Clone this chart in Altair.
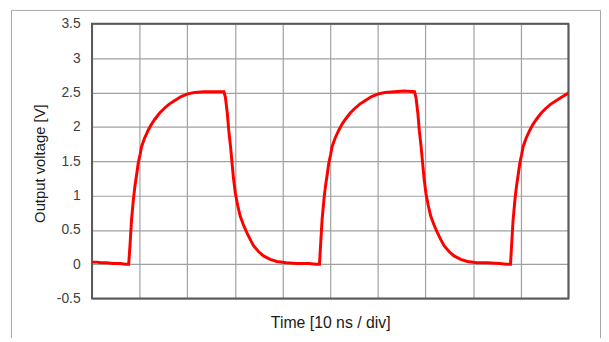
import altair as alt
import pandas as pd

# time in divisions (10 ns / div), output voltage in V
time_div = [
    0.00, 0.10, 0.20, 0.30, 0.45, 0.60, 0.70, 0.77,
    0.80, 0.83, 0.87, 0.90, 0.94, 0.97, 1.01, 1.04, 1.10, 1.18, 1.25, 1.32,
    1.42, 1.52, 1.62, 1.73, 1.87, 2.01, 2.15, 2.35, 2.55, 2.77,
    2.80, 2.84, 2.87, 2.91, 2.94, 2.97, 3.01, 3.06, 3.11, 3.18, 3.25, 3.32,
    3.39, 3.50, 3.60, 3.74, 3.88, 4.08, 4.30, 4.55, 4.70, 4.775,
    4.80, 4.83, 4.87, 4.90, 4.94, 4.97, 5.01, 5.04, 5.10, 5.18, 5.25, 5.32,
    5.42, 5.52, 5.62, 5.73, 5.87, 6.01, 6.15, 6.35, 6.55, 6.77,
    6.80, 6.84, 6.87, 6.91, 6.94, 6.97, 7.01, 7.06, 7.11, 7.18, 7.25, 7.32,
    7.39, 7.50, 7.60, 7.74, 7.88, 8.08, 8.30, 8.55, 8.70, 8.785,
    8.81, 8.84, 8.88, 8.91, 8.95, 8.98, 9.02, 9.05, 9.11, 9.19, 9.26, 9.33,
    9.43, 9.53, 9.63, 9.74, 9.88, 10.00,
]
voltage = [
    0.03, 0.03, 0.02, 0.02, 0.01, 0.01, 0.00, 0.00,
    0.30, 0.65, 0.95, 1.13, 1.32, 1.47, 1.60, 1.71, 1.83, 1.95, 2.04, 2.11,
    2.20, 2.27, 2.33, 2.38, 2.44, 2.48, 2.50, 2.51, 2.51, 2.51,
    2.43, 2.20, 1.95, 1.70, 1.47, 1.25, 1.03, 0.85, 0.70, 0.57, 0.46, 0.36,
    0.27, 0.18, 0.12, 0.07, 0.04, 0.02, 0.01, 0.01, 0.00, 0.00,
    0.30, 0.65, 0.95, 1.13, 1.32, 1.47, 1.60, 1.71, 1.83, 1.95, 2.04, 2.11,
    2.20, 2.27, 2.33, 2.38, 2.44, 2.48, 2.50, 2.51, 2.52, 2.51,
    2.43, 2.20, 1.95, 1.70, 1.47, 1.25, 1.03, 0.85, 0.70, 0.57, 0.46, 0.36,
    0.27, 0.18, 0.12, 0.07, 0.04, 0.02, 0.02, 0.01, 0.00, 0.00,
    0.30, 0.65, 0.95, 1.13, 1.32, 1.47, 1.60, 1.71, 1.83, 1.95, 2.04, 2.11,
    2.20, 2.27, 2.33, 2.38, 2.44, 2.49,
]
x_grid = [0, 1, 2, 3, 4, 5, 6, 7, 8, 9, 10]
y_ticks = [-0.5, 0, 0.5, 1, 1.5, 2, 2.5, 3, 3.5]

df = pd.DataFrame({"t": time_div, "v": voltage, "i": list(range(len(time_div)))})
one = pd.DataFrame({"a": [0]})

W, H = 482, 278
FONT = "Liberation Sans"

line = alt.Chart(df).mark_line(color="#ff0000", strokeWidth=3, clip=True).encode(
    x=alt.X("t:Q",
            scale=alt.Scale(domain=[0, 10], nice=False, zero=False),
            axis=alt.Axis(values=x_grid, labels=False, ticks=False, domain=False,
                          grid=True, gridColor="#a0a0a0", gridWidth=1.2,
                          title="Time [10 ns / div]", titleFont=FONT,
                          titleFontSize=16, titleFontWeight="normal",
                          titleColor="#1a1a1a", titleBaseline="alphabetic",
                          titleX=W / 2, titleY=29)),
    y=alt.Y("v:Q",
            scale=alt.Scale(domain=[-0.5, 3.5], nice=False, zero=False),
            axis=alt.Axis(values=y_ticks, labelExpr="toString(datum.value)",
                          ticks=False, domain=False, labelPadding=12,
                          labelFont=FONT, labelFontSize=14, labelColor="#404040",
                          grid=True, gridColor="#a0a0a0", gridWidth=1.2,
                          title="Output voltage [V]", titleFont=FONT,
                          titleFontSize=15, titleFontWeight="normal",
                          titleColor="#1a1a1a", titleBaseline="alphabetic",
                          titleAngle=270, titleX=-48, titleY=141)),
    order="i:Q",
)

frame = alt.Chart(one).mark_rect(fill="transparent", stroke="#595959", strokeWidth=2).encode(
    x=alt.value(0), x2=alt.value(W), y=alt.value(0), y2=alt.value(H)
)

outer = alt.Chart(one).mark_rect(fill="transparent", stroke="#a6a6a6", strokeWidth=1).encode(
    x=alt.value(-81.5), x2=alt.value(514.5), y=alt.value(-13.5), y2=alt.value(400)
)

chart = alt.layer(outer, frame, line).properties(
    width=W, height=H,
    autosize=alt.AutoSizeParams(type="none"),
    padding={"left": 85, "top": 14, "right": 33, "bottom": 38},
).configure_view(stroke=None).configure(background="white")

chart.save("out.html", embed_options={"renderer": "svg", "actions": False})
